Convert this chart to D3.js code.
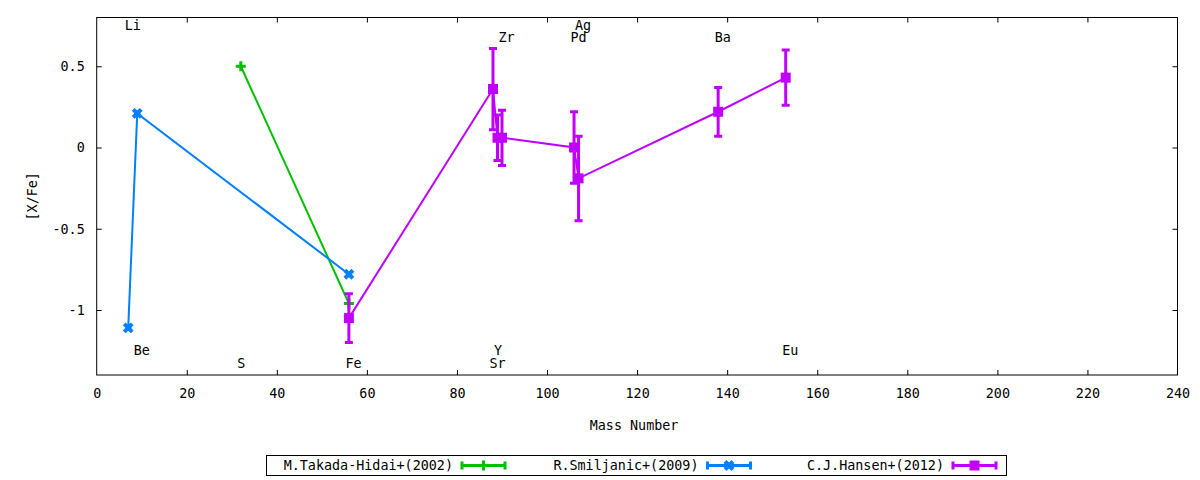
<!DOCTYPE html>
<html>
<head>
<meta charset="utf-8">
<script src="https://cdn.jsdelivr.net/npm/d3@7/dist/d3.min.js"></script>
<style>
  html, body { margin: 0; padding: 0; background: #fff; }
  svg { display: block; }
  text { font-family: "DejaVu Sans Mono", monospace; font-size: 13.4px; fill: #000; }
</style>
</head>
<body>
<svg id="chart" width="1200" height="480"></svg>
<script>
// ---------- data ----------
const xTicks = [0, 20, 40, 60, 80, 100, 120, 140, 160, 180, 200, 220, 240];
const yTicks = [-1, -0.5, 0, 0.5];

const seriesNames = ["M.Takada-Hidai+(2002)", "R.Smiljanic+(2009)", "C.J.Hansen+(2012)"];

const takadaMass = [32, 56];
const takadaVal  = [0.50, -0.96];
const takadaErr  = [0, 0];

const smiljanicMass = [7, 9, 56];
const smiljanicVal  = [-1.11, 0.21, -0.78];
const smiljanicErr  = [0, 0, 0];

const hansenMass = [56, 88, 89, 90, 106, 107, 138, 153];
const hansenVal  = [-1.05, 0.36, 0.06, 0.06, 0.00, -0.19, 0.22, 0.43];
const hansenErr  = [0.15, 0.25, 0.14, 0.17, 0.22, 0.26, 0.15, 0.17];

const elemNames = ["Li", "Be", "S", "Fe", "Sr", "Y", "Zr", "Pd", "Ag", "Ba", "Eu"];
const elemMass  = [7, 9, 32, 56, 88, 89, 90, 106, 107, 138, 153];
const elemLabY  = [0.75, -1.25, -1.33, -1.33, -1.33, -1.25, 0.68, 0.68, 0.75, 0.68, -1.25];

// ---------- layout ----------
const svg = d3.select("#chart");
const L = 96.7, R = 1177.5, T = 17.5, B = 375;
const x = d3.scaleLinear().domain([0, 240]).range([L, R]);
const y = d3.scaleLinear().domain([-1.4, 0.8]).range([B, T]);
const colors = ["#00c000", "#0080ff", "#c000ff"];
const tickLen = 5;

// axes (ticks inward, mirrored)
const gx = svg.append("g").attr("transform", `translate(0,${B})`)
  .call(d3.axisBottom(x).tickValues(xTicks).tickSize(-tickLen).tickPadding(13).tickFormat(d3.format("d")));
const gxt = svg.append("g").attr("transform", `translate(0,${T})`)
  .call(d3.axisTop(x).tickValues(xTicks).tickSize(-tickLen).tickFormat(""));
const fmtY = d => String(d);
const gy = svg.append("g").attr("transform", `translate(${L},0)`)
  .call(d3.axisLeft(y).tickValues(yTicks).tickSize(-tickLen).tickPadding(12).tickFormat(fmtY));
const gyr = svg.append("g").attr("transform", `translate(${R},0)`)
  .call(d3.axisRight(y).tickValues(yTicks).tickSize(-tickLen).tickFormat(""));
[gx, gxt, gy, gyr].forEach(g => {
  g.select(".domain").remove();
  g.selectAll(".tick line").attr("stroke", "#000").attr("stroke-width", 1);
  g.selectAll("text").attr("font-family", "DejaVu Sans Mono").attr("font-size", "13.4px").attr("fill", "#000");
});
// drop the end-tick lines at the box edges
gx.selectAll(".tick").filter(d => d === 0 || d === 240).select("line").remove();
gxt.selectAll(".tick").filter(d => d === 0 || d === 240).select("line").remove();

svg.append("rect").attr("x", L).attr("y", T).attr("width", R - L).attr("height", B - T)
  .attr("fill", "none").attr("stroke", "#000").attr("stroke-width", 1);

// axis titles
svg.append("text").attr("x", (L + R) / 2 - 3).attr("y", 425).attr("text-anchor", "middle")
  .attr("dominant-baseline", "central").text("Mass Number");
svg.append("text").attr("transform", `translate(32,${(T + B) / 2}) rotate(-90)`)
  .attr("text-anchor", "middle").attr("dominant-baseline", "central").text("[X/Fe]");

// element labels
elemNames.forEach((n, i) => {
  svg.append("text").attr("x", x(elemMass[i]) - 3.5).attr("y", y(elemLabY[i]))
    .attr("dominant-baseline", "central").text(n);
});

// markers
function marker(g, kind, cx, cy, color) {
  if (kind === 0) {
    g.append("path").attr("d", `M${cx - 5},${cy}H${cx + 5}M${cx},${cy - 5}V${cy + 5}`)
      .attr("stroke", color).attr("stroke-width", 3).attr("fill", "none");
  } else if (kind === 1) {
    g.append("path").attr("d", `M${cx - 4},${cy - 4}L${cx + 4},${cy + 4}M${cx + 4},${cy - 4}L${cx - 4},${cy + 4}`)
      .attr("stroke", color).attr("stroke-width", 4).attr("fill", "none");
    g.append("rect").attr("x", cx - 3).attr("y", cy - 3).attr("width", 6).attr("height", 6).attr("fill", color);
  } else {
    g.append("rect").attr("x", cx - 5).attr("y", cy - 5).attr("width", 10).attr("height", 10).attr("fill", color);
  }
}

const allSeries = [
  { mass: takadaMass, val: takadaVal, err: takadaErr },
  { mass: smiljanicMass, val: smiljanicVal, err: smiljanicErr },
  { mass: hansenMass, val: hansenVal, err: hansenErr }
];

const line = d3.line().x(d => x(d[0])).y(d => y(d[1]));
allSeries.forEach((s, si) => {
  const g = svg.append("g");
  const pts = s.mass.map((m, i) => [m, s.val[i], s.err[i]]);
  g.append("path").attr("d", line(pts)).attr("fill", "none")
    .attr("stroke", colors[si]).attr("stroke-width", 2);
  pts.forEach(p => {
    if (p[2] > 0) {
      const x0 = x(p[0]), y1 = y(p[1] + p[2]), y2 = y(p[1] - p[2]);
      g.append("path").attr("d", `M${x0},${y1}V${y2}M${x0 - 4},${y1}H${x0 + 4}M${x0 - 4},${y2}H${x0 + 4}`)
        .attr("stroke", colors[si]).attr("stroke-width", 3).attr("fill", "none");
    }
    marker(g, si, x(p[0]), y(p[1]), colors[si]);
  });
});

// legend
svg.append("rect").attr("x", 266.5).attr("y", 455.5).attr("width", 740).attr("height", 20)
  .attr("fill", "none").attr("stroke", "#000").attr("stroke-width", 1);
seriesNames.forEach((n, i) => {
  const te = 453 + i * 245.5, ly = 465.5;
  svg.append("text").attr("x", te).attr("y", ly).attr("text-anchor", "end")
    .attr("dominant-baseline", "central").text(n);
  const x1 = te + 9, x2 = te + 52;
  svg.append("path").attr("d", `M${x1},${ly}H${x2}M${x1},${ly - 4}V${ly + 4}M${x2},${ly - 4}V${ly + 4}`)
    .attr("stroke", colors[i]).attr("stroke-width", 3).attr("fill", "none");
  marker(svg, i, (x1 + x2) / 2, ly, colors[i]);
});
</script>
</body>
</html>
